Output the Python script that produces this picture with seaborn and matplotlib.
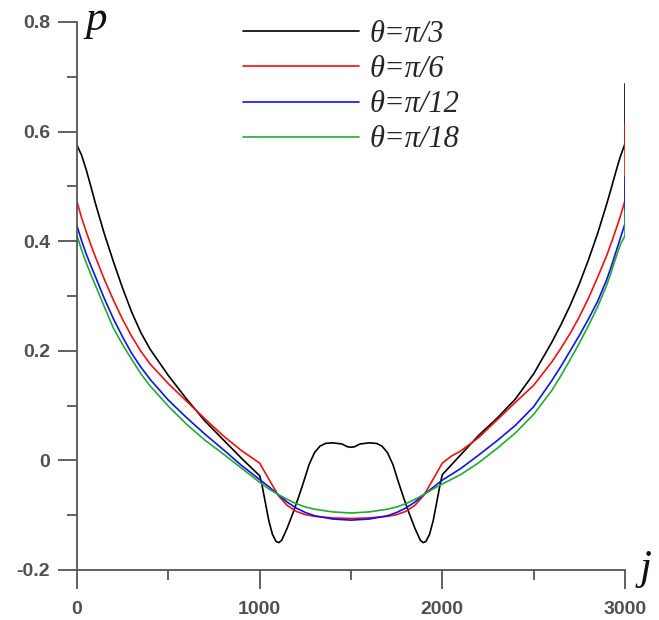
import matplotlib
matplotlib.use("Agg")
import matplotlib.pyplot as plt
import numpy as np
import pandas as pd
import seaborn as sns
from matplotlib.font_manager import FontProperties
from matplotlib.ticker import MultipleLocator

# ---- data (profiles roughly symmetric around j = 1500) ----
j_black = [0, 25, 50, 75, 100, 150, 200, 250, 300, 350, 400, 500, 600, 700, 800, 900, 1000,
           1010, 1030, 1050, 1070, 1090, 1105, 1120, 1150, 1180, 1210, 1240, 1270, 1300, 1330, 1360,
           1400, 1450, 1480, 1500, 1520, 1550, 1600, 1640, 1670, 1700, 1730, 1760, 1790, 1820, 1850,
           1880, 1895, 1910, 1930, 1950, 1970, 1990, 2000,
           2100, 2200, 2300, 2400, 2500, 2600, 2650, 2700, 2750, 2800, 2850, 2900, 2925, 2950, 2975,
           3000, 3000]
p_black = [0.575, 0.557, 0.531, 0.501, 0.470, 0.413, 0.362, 0.314, 0.270, 0.233, 0.203, 0.155,
           0.112, 0.072, 0.038, 0.004, -0.028,
           -0.040, -0.075, -0.110, -0.135, -0.148, -0.150, -0.146, -0.124, -0.098, -0.070, -0.040,
           -0.008, 0.014, 0.026, 0.031, 0.032, 0.030, 0.025, 0.024, 0.025, 0.030, 0.032, 0.031,
           0.026, 0.014, -0.008, -0.040, -0.070, -0.098, -0.124, -0.146, -0.150, -0.148, -0.135,
           -0.110, -0.075, -0.040, -0.026,
           0.010, 0.046, 0.077, 0.112, 0.158, 0.216, 0.248, 0.283, 0.322, 0.366, 0.414, 0.468,
           0.497, 0.527, 0.555, 0.578, 0.687]

j_red = [0, 25, 50, 75, 100, 150, 200, 250, 300, 350, 400, 500, 600, 700, 800, 900, 1000,
         1050, 1100, 1150, 1200, 1250, 1300, 1400, 1500, 1600, 1700, 1750, 1800, 1850, 1900, 1950,
         2000, 2050, 2100, 2200, 2300, 2400, 2500, 2600, 2650, 2700, 2750, 2800, 2850, 2900, 2925,
         2950, 2975, 3000, 3000]
p_red = [0.472, 0.443, 0.418, 0.394, 0.372, 0.330, 0.292, 0.257, 0.226, 0.199, 0.176, 0.140,
         0.108, 0.076, 0.045, 0.018, -0.005,
         -0.034, -0.063, -0.082, -0.093, -0.099, -0.102, -0.105, -0.106, -0.105, -0.102, -0.099,
         -0.093, -0.082, -0.063, -0.034,
         -0.005, 0.008, 0.017, 0.042, 0.074, 0.106, 0.137, 0.180, 0.205, 0.232, 0.262, 0.296,
         0.334, 0.374, 0.397, 0.421, 0.446, 0.474, 0.614]

j_blue = [0, 25, 50, 75, 100, 150, 200, 250, 300, 350, 400, 500, 600, 700, 800, 900, 1000,
          1050, 1100, 1150, 1200, 1250, 1300, 1400, 1500, 1600, 1700, 1750, 1800, 1850, 1900, 1950,
          2000, 2100, 2200, 2300, 2400, 2500, 2600, 2650, 2700, 2750, 2800, 2850, 2900, 2925,
          2950, 2975, 3000, 3000]
p_blue = [0.428, 0.401, 0.377, 0.356, 0.336, 0.295, 0.258, 0.225, 0.195, 0.170, 0.148, 0.110,
          0.078, 0.048, 0.020, -0.009, -0.035,
          -0.048, -0.062, -0.076, -0.087, -0.095, -0.101, -0.107, -0.109, -0.107, -0.101, -0.095,
          -0.087, -0.076, -0.062, -0.049,
          -0.036, -0.015, 0.010, 0.036, 0.064, 0.098, 0.146, 0.172, 0.200, 0.228, 0.258, 0.290,
          0.330, 0.354, 0.380, 0.406, 0.432, 0.517]

j_green = [0, 25, 50, 75, 100, 150, 200, 250, 300, 350, 400, 500, 600, 700, 800, 900, 1000,
           1050, 1100, 1150, 1200, 1250, 1300, 1400, 1500, 1600, 1700, 1750, 1800, 1850, 1900, 1950,
           2000, 2100, 2200, 2300, 2400, 2500, 2600, 2650, 2700, 2750, 2800, 2850, 2900, 2925,
           2950, 2975, 3000, 3000]
p_green = [0.410, 0.384, 0.361, 0.340, 0.320, 0.280, 0.241, 0.211, 0.184, 0.158, 0.136, 0.099,
           0.066, 0.037, 0.012, -0.014, -0.040,
           -0.052, -0.062, -0.071, -0.079, -0.085, -0.089, -0.094, -0.096, -0.094, -0.089, -0.085,
           -0.079, -0.071, -0.062, -0.052,
           -0.043, -0.026, -0.004, 0.022, 0.050, 0.084, 0.128, 0.155, 0.184, 0.214, 0.246, 0.280,
           0.320, 0.344, 0.370, 0.394, 0.410, 0.456]

labels = ["θ=π/3", "θ=π/6", "θ=π/12", "θ=π/18"]
colors = ["#000000", "#ee1111", "#1111ee", "#22aa33"]
x_ticks = [0, 1000, 2000, 3000]
y_ticks = [-0.2, 0, 0.2, 0.4, 0.6, 0.8]
y_tick_labels = ["-0.2", "0", "0.2", "0.4", "0.6", "0.8"]

frames = []
for lab, js, ps in zip(labels, [j_black, j_red, j_blue, j_green],
                       [p_black, p_red, p_blue, p_green]):
    frames.append(pd.DataFrame({"j": js, "p": ps, "curve": lab}))
df = pd.concat(frames, ignore_index=True)

sns.set_style("ticks")
plt.rcParams["font.family"] = ["Liberation Sans", "DejaVu Sans"]

W, H = 659, 620
fig = plt.figure(figsize=(W / 100, H / 100), dpi=100)
ax = fig.add_axes([77 / W, 50 / H, 548 / W, 548 / H])

sns.lineplot(data=df, x="j", y="p", hue="curve", hue_order=labels,
             palette=dict(zip(labels, colors)), estimator=None, sort=False,
             linewidth=1.2, ax=ax)

ax.set_xlim(0, 3000)
ax.set_ylim(-0.2, 0.8)
ax.set_xticks(x_ticks)
ax.set_xticklabels([str(v) for v in x_ticks])
ax.set_yticks(y_ticks)
ax.set_yticklabels(y_tick_labels)
ax.xaxis.set_minor_locator(MultipleLocator(500))
ax.yaxis.set_minor_locator(MultipleLocator(0.1))
ax.set_xlabel("")
ax.set_ylabel("")

spine_col = "#555555"
for s in ["top", "right"]:
    ax.spines[s].set_visible(False)
for s in ["left", "bottom"]:
    ax.spines[s].set_color(spine_col)
    ax.spines[s].set_linewidth(1.3)

ax.tick_params(axis="both", which="major", direction="out", length=13.5, width=1.3,
               color=spine_col, labelsize=14, labelcolor="#505050")
ax.tick_params(axis="both", which="minor", direction="out", length=7, width=1.3,
               color=spine_col)
ax.tick_params(axis="x", which="major", pad=9)
ax.tick_params(axis="y", which="major", pad=6)
for t in ax.get_xticklabels() + ax.get_yticklabels():
    t.set_fontweight("bold")

serif_it = FontProperties(family="Liberation Serif", style="italic", size=31)
fig.text(86 / W, 1 - 30 / H, "p", fontproperties=serif_it, ha="left", va="baseline",
         color="#111111")
fig.text(640 / W, 1 - 579 / H, "j", fontproperties=serif_it, ha="left", va="baseline",
         color="#111111")

handles, labs = ax.get_legend_handles_labels()
leg_font = FontProperties(family="Liberation Serif", style="italic", size=22)
ax.legend(handles, labs, loc="upper left", bbox_to_anchor=(243 / W, 1 - 20 / H),
          bbox_transform=fig.transFigure, frameon=False, prop=leg_font,
          handlelength=3.8, handletextpad=0.33, labelspacing=0.2, borderpad=0,
          borderaxespad=0)

fig.savefig("out.png", dpi=100)
